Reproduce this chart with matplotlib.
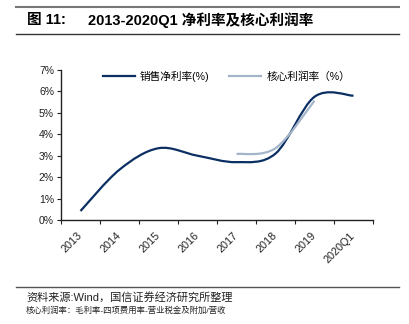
import matplotlib
matplotlib.use("Agg")
import matplotlib.pyplot as plt
import numpy as np
from matplotlib.path import Path
from matplotlib.patches import PathPatch
from matplotlib.lines import Line2D

plt.rcParams['font.family'] = ['Liberation Sans', 'Noto Sans CJK SC', 'DejaVu Sans']

# Data (%)
years = ['2013', '2014', '2015', '2016', '2017', '2018', '2019', '2020Q1']
net_margin = [0.42, 2.35, 3.35, 3.00, 2.70, 3.10, 5.75, 5.80]
core_margin = [None, None, None, None, 3.08, 3.35, 5.57, None]

net_label = '销售净利率(%)'
core_label = '核心利润率（%）'
net_color = '#0B2F63'
core_color = '#A3B5C8'


def smooth_path(xs, ys):
    """Cubic Bezier path through the points (Catmull-Rom style tangents)."""
    pts = np.column_stack([xs, ys]).astype(float)
    n = len(pts)
    verts = [pts[0]]
    codes = [Path.MOVETO]
    for i in range(n - 1):
        p0 = pts[i - 1] if i > 0 else pts[i]
        p1 = pts[i]
        p2 = pts[i + 1]
        p3 = pts[i + 2] if i + 2 < n else pts[i + 1]
        c1 = p1 + (p2 - p0) / 6.0
        c2 = p2 - (p3 - p1) / 6.0
        verts += [c1, c2, p2]
        codes += [Path.CURVE4] * 3
    return Path(verts, codes)


fig = plt.figure(figsize=(4.10, 3.24), dpi=100)
ax = fig.add_axes([61 / 410, 1 - 220 / 324, 312 / 410, 150 / 324])

x = np.arange(len(years))

for vals, color in [(net_margin, net_color), (core_margin, core_color)]:
    idx = [i for i, v in enumerate(vals) if v is not None]
    path = smooth_path(x[idx], [vals[i] for i in idx])
    ax.add_patch(PathPatch(path, fill=False, edgecolor=color, lw=1.6,
                           capstyle='butt', joinstyle='round'))

ax.set_xlim(-0.5, len(years) - 0.5)
ax.set_ylim(0, 7)
ax.set_yticks(range(0, 8))
ax.set_yticklabels([f'{v}%' for v in range(0, 8)], fontsize=7.5, color='#222222')
ax.set_xticks(x)
ax.set_xticklabels(years, rotation=45, ha='right', va='center', fontsize=7.8,
                   color='#222222', rotation_mode='anchor')
ax.set_xticks(np.arange(-0.5, len(years)), minor=True)
ax.tick_params(axis='x', which='major', length=0, pad=10)
ax.tick_params(axis='x', which='minor', length=3, width=0.8, direction='out', color='#222222')
ax.tick_params(axis='y', length=3, width=0.8, direction='out', pad=2, color='#222222')
for s in ['top', 'right']:
    ax.spines[s].set_visible(False)
for s in ['left', 'bottom']:
    ax.spines[s].set_color('#222222')
    ax.spines[s].set_linewidth(1.0)

handles = [Line2D([], [], color=net_color, lw=1.6),
           Line2D([], [], color=core_color, lw=1.6)]
ax.legend(handles, [net_label, core_label], loc='upper center',
          bbox_to_anchor=(0.53, 1.06), ncol=2, frameon=False, fontsize=7.7,
          handlelength=3.0, handletextpad=0.5, columnspacing=1.8)

# Header
fig.add_artist(Line2D([16 / 410, 399 / 410], [1 - 7 / 324] * 2, color='#777777', lw=1.5))
fig.add_artist(Line2D([16 / 410, 399 / 410], [1 - 34 / 324] * 2, color='#333333', lw=1.0))
fig.text(27 / 410, 1 - 20 / 324, '图 11:', fontsize=10.5, fontweight='bold', va='center')
fig.text(88 / 410, 1 - 20 / 324, '2013-2020Q1 净利率及核心利润率', fontsize=10.5,
         fontweight='bold', va='center')

# Footer
fig.add_artist(Line2D([16 / 410, 399 / 410], [1 - 287 / 324] * 2, color='#555555', lw=1.0))
fig.text(26 / 410, 1 - 297 / 324, '资料来源:Wind，国信证券经济研究所整理', fontsize=8.0,
         va='center', color='#222222')
fig.text(26 / 410, 1 - 311 / 324, '核心利润率：毛利率-四项费用率-营业税金及附加/营收', fontsize=6.0,
         va='center', color='#222222')

fig.savefig('out.png', dpi=100)
